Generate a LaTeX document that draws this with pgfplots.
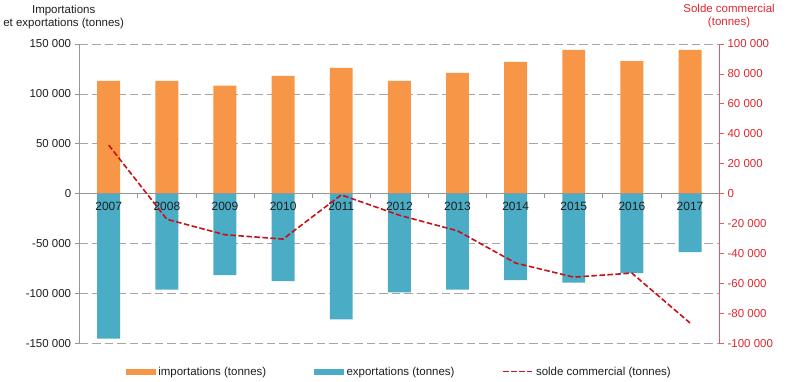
\documentclass[border=0pt]{standalone}
\usepackage{pgfplots}
\pgfplotsset{compat=1.18}
\usepackage{fontspec}
\setmainfont{Liberation Sans}
\definecolor{impC}{RGB}{247,150,70}
\definecolor{expC}{RGB}{75,172,198}
\definecolor{soldeC}{RGB}{200,16,24}
\definecolor{rightC}{RGB}{218,40,48}
\definecolor{rightL}{RGB}{222,90,100}
\definecolor{gridC}{RGB}{166,166,166}
\definecolor{axC}{RGB}{150,150,150}
\definecolor{txtC}{RGB}{30,30,30}
\begin{document}
\begin{tikzpicture}[x=1pt,y=1pt]
\begin{axis}[
  at={(0,0)}, anchor=south west,
  scale only axis, width=640pt, height=300pt,
  xmin=-0.5, xmax=10.5,
  ymin=-150000, ymax=150000,
  scaled y ticks=false,
  axis x line=middle, axis y line*=left,
  x axis line style={-, draw=axC, line width=0.8pt},
  y axis line style={-, draw=axC, line width=0.8pt},
  xtick={0,...,10},
  xticklabels={},
  major x tick style={draw=none},
  minor xtick={0.5,1.5,...,9.5},
  minor x tick style={draw=axC, line width=0.8pt},
  minor tick length=4pt,
  ytick={-150000,-100000,-50000,0,50000,100000,150000},
  yticklabels={-150 000,-100 000,-50 000,0,50 000,100 000,150 000},
  y tick label style={font=\fontsize{11.5}{13}\selectfont, text=txtC},
  tick align=outside,
  major tick length=5pt,
  ytick style={draw=axC, line width=0.8pt},
  ymajorgrids,
  grid style={draw=gridC, dash pattern=on 8.5pt off 4pt, line width=0.8pt},
  clip=false,
]
\addplot[ybar, bar width=23pt, bar shift=0pt, fill=impC, draw=none] coordinates {
 (0,113000) (1,113000) (2,108300) (3,118000) (4,126000) (5,113000)
 (6,121000) (7,132000) (8,144000) (9,132700) (10,144000)};
\addplot[ybar, bar width=23pt, bar shift=0pt, fill=expC, draw=none] coordinates {
 (0,-145000) (1,-96000) (2,-81300) (3,-87300) (4,-125700) (5,-98700)
 (6,-96000) (7,-86300) (8,-89000) (9,-79300) (10,-58300)};
\draw[draw=axC, line width=0.8pt] (axis cs:-0.5,0) -- (axis cs:10.5,0);
\pgfplotsinvokeforeach{0,...,10}{
  \node[font=\fontsize{12}{14}\selectfont, text=txtC, anchor=north, inner sep=0pt] at (axis cs:#1,-8000) {\pgfmathparse{int(2007+#1)}\pgfmathresult};
}
\end{axis}
\begin{axis}[
  at={(0,0)}, anchor=south west,
  scale only axis, width=640pt, height=300pt,
  xmin=-0.5, xmax=10.5,
  ymin=-100000, ymax=100000,
  scaled y ticks=false,
  axis x line=none, axis y line*=right,
  y axis line style={-, draw=rightL, line width=0.8pt},
  ytick={-100000,-80000,...,100000},
  yticklabels={-100 000,-80 000,-60 000,-40 000,-20 000,0,20 000,40 000,60 000,80 000,100 000},
  y tick label style={font=\fontsize{11.5}{13}\selectfont, text=rightC},
  tick align=outside, major tick length=5pt,
  ytick style={draw=rightL, line width=0.8pt},
  legend columns=3,
  legend style={at={(0.5,-28pt)}, anchor=center, draw=none, fill=none,
    font=\fontsize{11.5}{13}\selectfont, text=txtC,
    /tikz/every odd column/.append style={column sep=1pt},
    /tikz/every even column/.append style={column sep=46pt}},
  legend cell align=left,
  clip=false,
]
\addlegendimage{area legend, legend image code/.code={\fill[impC] (0pt,-2.5pt) rectangle (29pt,2.5pt);}}
\addlegendentry{importations (tonnes)}
\addlegendimage{area legend, legend image code/.code={\fill[expC] (0pt,-2.5pt) rectangle (29pt,2.5pt);}}
\addlegendentry{exportations (tonnes)}
\addplot[soldeC, line width=1.6pt, dash pattern=on 5.5pt off 2.5pt,
  legend image code/.code={\draw[soldeC, line width=1.6pt, dash pattern=on 5.5pt off 2.5pt] (0pt,0pt) -- (29pt,0pt);}] coordinates {
 (0,32500) (1,-17000) (2,-27300) (3,-30200) (4,-700) (5,-14300)
 (6,-24700) (7,-46200) (8,-55600) (9,-52900) (10,-86200)};
\addlegendentry{solde commercial (tonnes)}
\end{axis}
\node[align=center, font=\fontsize{11.5}{13}\selectfont, text=txtC, anchor=center] at (-16pt,327pt) {Importations\\et exportations (tonnes)};
\node[align=center, font=\fontsize{11.5}{13}\selectfont, text=rightC, anchor=center] at (650pt,328pt) {Solde commercial\\(tonnes)};
\useasboundingbox (-79pt,-38pt) rectangle (721pt,344pt);
\end{tikzpicture}
\end{document}
